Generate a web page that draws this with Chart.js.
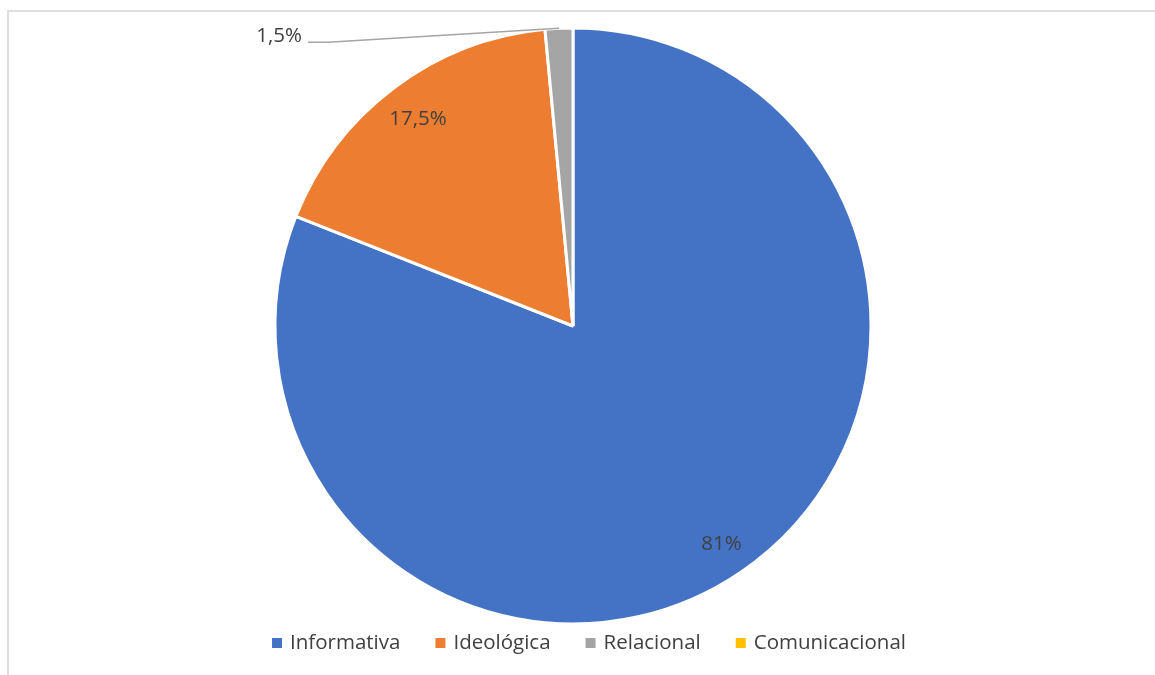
<!DOCTYPE html>
<html lang="es">
<head>
<meta charset="utf-8">
<title>Funciones</title>
<script src="https://cdn.jsdelivr.net/npm/chart.js@4.4.1/dist/chart.umd.min.js"></script>
<style>
  html, body { margin: 0; padding: 0; background: #fff; overflow: hidden; }
  #wrap { position: relative; width: 1155px; height: 675px; }
  #marco {
    position: absolute; left: 7px; top: 10px; width: 1200px; height: 720px;
    border: 2px solid #dedede; box-sizing: border-box;
  }
  #grafico { position: absolute; left: 0; top: 0; }
</style>
</head>
<body>
<div id="wrap">
  <div id="marco"></div>
  <canvas id="grafico" width="1155" height="675"></canvas>
</div>
<script>
var categorias = ['Informativa', 'Ideológica', 'Relacional', 'Comunicacional'];
var valores = [81, 17.5, 1.5, 0];
var colores = ['#4472C4', '#ED7D31', '#A5A5A5', '#FFC000'];

var colorTexto = '#404040';
var fuente = '20.5px "Open Sans", sans-serif';

function formato(v) {
  return String(v).replace('.', ',') + '%';
}

// etiquetas de porcentaje: dentro de la porción (pegadas al borde), o fuera con línea guía si es pequeña
var etiquetas = {
  id: 'etiquetas',
  afterDatasetsDraw: function(chart) {
    var ctx = chart.ctx;
    var meta = chart.getDatasetMeta(0);
    var total = valores.reduce(function(a, b) { return a + b; }, 0);
    ctx.save();
    ctx.font = fuente;
    ctx.fillStyle = colorTexto;
    meta.data.forEach(function(arc, i) {
      var v = valores[i];
      if (!v) return;
      var p = arc.getProps(['x', 'y', 'startAngle', 'endAngle', 'outerRadius'], true);
      var medio = (p.startAngle + p.endAngle) / 2;
      var ux = Math.cos(medio), uy = Math.sin(medio);
      var texto = formato(v);
      if (v / total > 0.05) {
        // la esquina más lejana de la caja del texto queda a 14px del borde
        var w = ctx.measureText(texto).width / 2, h = 10;
        var cx = ux >= 0 ? w : -w, cy = uy >= 0 ? h : -h;
        var b = ux * cx + uy * cy;
        var lim = p.outerRadius - 14;
        var d = (-2 * b + Math.sqrt(4 * b * b - 4 * (cx * cx + cy * cy - lim * lim))) / 2;
        ctx.textAlign = 'center';
        ctx.textBaseline = 'middle';
        ctx.fillText(texto, p.x + ux * d, p.y + uy * d);
      } else {
        var bx = p.x + ux * p.outerRadius;
        var by = p.y + uy * p.outerRadius;
        var fx = bx - 251, fy = by + 14;
        ctx.strokeStyle = '#A5A5A5';
        ctx.lineWidth = 1.5;
        ctx.beginPath();
        ctx.moveTo(bx, by);
        ctx.lineTo(fx + 20, fy);
        ctx.lineTo(fx, fy);
        ctx.stroke();
        ctx.textAlign = 'right';
        ctx.textBaseline = 'middle';
        ctx.fillText(texto, fx - 6, fy - 6);
      }
    });
    ctx.restore();
  }
};

// leyenda inferior con cuadros de color
var leyenda = {
  id: 'leyenda',
  afterDraw: function(chart) {
    var ctx = chart.ctx;
    var caja = 10, separa = 8, hueco = 35;
    ctx.save();
    ctx.font = fuente;
    var ancho = 0;
    categorias.forEach(function(c, i) {
      ancho += caja + separa + ctx.measureText(c).width + (i > 0 ? hueco : 0);
    });
    var x = 589 - ancho / 2;
    var y = 643;
    ctx.textAlign = 'left';
    ctx.textBaseline = 'middle';
    categorias.forEach(function(c, i) {
      ctx.fillStyle = colores[i];
      ctx.fillRect(x, y - caja / 2, caja, caja);
      x += caja + separa;
      ctx.fillStyle = colorTexto;
      ctx.fillText(c, x, y);
      x += ctx.measureText(c).width + hueco;
    });
    ctx.restore();
  }
};

document.addEventListener('DOMContentLoaded', function() {
  var ctx = document.getElementById('grafico').getContext('2d');
  new Chart(ctx, {
    type: 'pie',
    data: {
      labels: categorias,
      datasets: [{
        data: valores,
        backgroundColor: colores,
        borderColor: '#ffffff',
        borderWidth: 3
      }]
    },
    options: {
      responsive: false,
      animation: false,
      radius: 298,
      layout: { padding: { left: 0, right: 9, top: 29, bottom: 52 } },
      plugins: {
        legend: { display: false },
        tooltip: { enabled: false }
      }
    },
    plugins: [etiquetas, leyenda]
  });
});
</script>
</body>
</html>
